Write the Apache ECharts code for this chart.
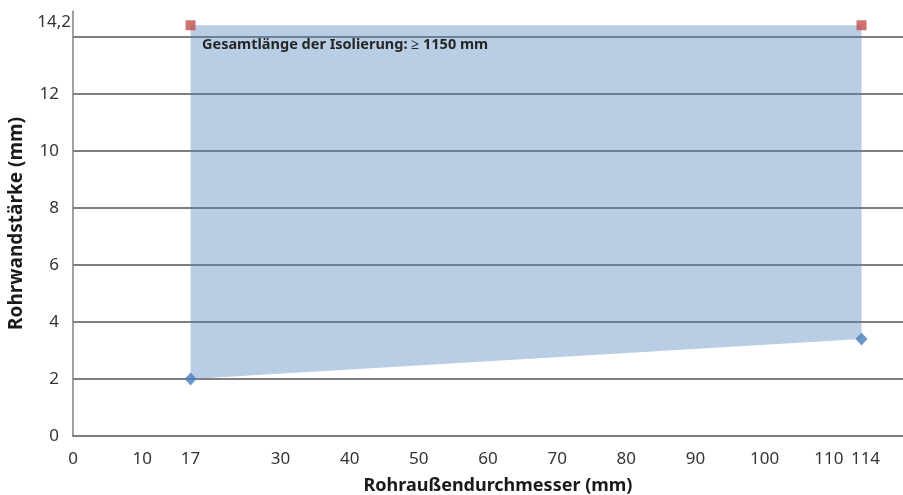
<!DOCTYPE html>
<html>
<head>
<meta charset="utf-8">
<script src="https://cdn.jsdelivr.net/npm/echarts@6/dist/echarts.min.js"></script>
<style>
    html, body { margin: 0; padding: 0; background: #fff; }
    #main { width: 903px; height: 495px; }
</style>
</head>
<body>
<div id="main"></div>
<script>
// Daten
var xDurchmesser = [17, 114];
var minWand = [2, 3.4];
var maxWand = [14.4, 14.4];
var xTickValues = [0, 10, 17, 30, 40, 50, 60, 70, 80, 90, 100, 110, 114];
var yTickValues = [0, 2, 4, 6, 8, 10, 12, 14.5];
var yTickLabels = ['0', '2', '4', '6', '8', '10', '12', '14,2'];
var hinweis = 'Gesamtlänge der Isolierung: ≥ 1150 mm';

var myChart = echarts.init(document.getElementById('main'));

// Eckpunkte der Fläche: unten links, oben links, oben rechts, unten rechts
var flaeche = [
    [xDurchmesser[0], minWand[0]],
    [xDurchmesser[0], maxWand[0]],
    [xDurchmesser[1], maxWand[1]],
    [xDurchmesser[1], minWand[1]]
];

var fontName = 'Noto Sans';
var grau = '#7f7f7f';

var option = {
    animation: false,
    grid: {
        left: 73,
        right: 0,
        top: 11,
        bottom: 59,
        outerBoundsMode: 'none'
    },
    xAxis: {
        type: 'value',
        min: 0,
        max: 120,
        interval: 10,
        name: 'Rohraußendurchmesser (mm)',
        nameLocation: 'middle',
        nameGap: 41,
        nameTextStyle: { fontFamily: fontName, fontWeight: 'bold', fontSize: 18, color: '#1a1a1a', padding: [0, 0, 0, 20] },
        axisLine: { lineStyle: { color: grau, width: 2 } },
        axisTick: { show: false },
        splitLine: { show: false },
        axisLabel: {
            customValues: xTickValues,
            hideOverlap: false,
            fontFamily: fontName,
            fontSize: 17,
            color: '#333',
            margin: 15,
            formatter: function (val) {
                // 110 und 114 etwas auseinanderschieben
                if (val === 110) return '{l|110}';
                if (val === 114) return '{r|114}';
                return String(val);
            },
            rich: {
                l: { fontFamily: fontName, fontSize: 17, color: '#333', padding: [0, 10, 0, 0] },
                r: { fontFamily: fontName, fontSize: 17, color: '#333', padding: [0, 0, 0, 8] }
            }
        }
    },
    yAxis: {
        type: 'value',
        min: 0,
        max: 14.9,
        interval: 2,
        name: 'Rohrwandstärke (mm)',
        nameLocation: 'middle',
        nameGap: 37,
        nameTextStyle: { fontFamily: fontName, fontWeight: 'bold', fontSize: 19, color: '#1a1a1a' },
        axisLine: { show: true, lineStyle: { color: grau, width: 1.5 } },
        axisTick: { show: false },
        splitLine: { show: true, showMaxLine: false, lineStyle: { color: grau, width: 2 } },
        axisLabel: {
            customValues: yTickValues,
            hideOverlap: false,
            fontFamily: fontName,
            fontSize: 17,
            color: '#333',
            margin: 2,
            formatter: function (val) {
                for (var i = 0; i < yTickValues.length; i++) {
                    if (Math.abs(yTickValues[i] - val) < 1e-6) {
                        // oberste Beschriftung sitzt direkt an der Achse
                        return i === yTickValues.length - 1 ? '{top|' + yTickLabels[i] + '}' : '{n|' + yTickLabels[i] + '}';
                    }
                }
                return '';
            },
            rich: {
                n: { fontFamily: fontName, fontSize: 17, color: '#333', padding: [0, 12, 0, 0] },
                top: { fontFamily: fontName, fontSize: 17, color: '#333' }
            }
        }
    },
    graphic: [{
        type: 'text',
        left: 202,
        top: 37,
        style: {
            text: hinweis,
            fontFamily: fontName,
            fontWeight: 'bold',
            fontSize: 14.5,
            fill: '#262626'
        },
        z: 10
    }],
    series: [
        {
            // Fläche zwischen min und max
            type: 'custom',
            data: flaeche,
            z: 1,
            renderItem: function (params, api) {
                if (params.dataIndex !== 0) return null;
                var pts = [];
                for (var i = 0; i < flaeche.length; i++) {
                    pts.push(api.coord(flaeche[i]));
                }
                return {
                    type: 'polygon',
                    shape: { points: pts },
                    style: { fill: 'rgba(79,129,189,0.4)' }
                };
            }
        },
        {
            type: 'scatter',
            symbol: 'diamond',
            symbolSize: [12, 13],
            itemStyle: { color: '#4a7ebb' },
            data: xDurchmesser.map(function (x, i) { return [x, minWand[i]]; }),
            z: 5
        },
        {
            type: 'scatter',
            symbol: 'rect',
            symbolSize: 10,
            itemStyle: { color: '#c0504d' },
            data: xDurchmesser.map(function (x, i) { return [x, maxWand[i]]; }),
            z: 5
        }
    ]
};

myChart.setOption(option);
</script>
</body>
</html>
